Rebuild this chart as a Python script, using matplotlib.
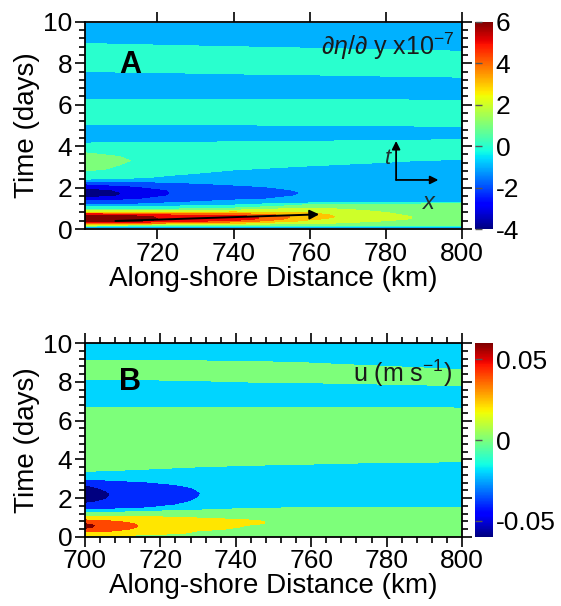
import numpy as np
import matplotlib
matplotlib.use('Agg')
import matplotlib.pyplot as plt
from matplotlib.colors import Normalize
from matplotlib.cm import ScalarMappable
from matplotlib.ticker import AutoMinorLocator

plt.rcParams['font.family'] = ['Liberation Sans', 'DejaVu Sans']
plt.rcParams['mathtext.fontset'] = 'custom'
plt.rcParams['mathtext.rm'] = 'Liberation Sans'
plt.rcParams['mathtext.it'] = 'Liberation Sans:italic'
plt.rcParams['axes.unicode_minus'] = False

# ---- panel A: d(eta)/dy x1e-7, sampled per along-shore column ----
dist_a = [701, 712, 724, 740, 760, 780, 800]
time_a = [0.08, 0.2, 0.3, 0.4, 0.5, 0.6, 0.7, 0.8, 0.9, 1.0,
          1.1, 1.2, 1.3, 1.45, 1.6, 1.75, 1.9, 2.05, 2.2, 2.35,
          2.5, 2.7, 2.9, 3.1, 3.3, 3.5, 3.7, 3.9, 4.1, 4.3,
          4.5, 4.8, 5.1, 5.4, 5.7, 6.0, 6.3, 6.6, 6.9, 7.2,
          7.5, 7.8, 8.1, 8.4, 8.7, 9.0, 9.3, 9.6, 9.92]

deta_701 = [-1.2, 1.9, 4.6, 6.4, 6.4, 6.3, 5.3, 2.8, 1.2, -0.2,
            -0.58, -1.6, -2.1, -3.1, -4.2, -4.3, -4.0, -2.93, -2.43, -1.03,
            0.3, 0.2, 0.8, 1.0, 1.1, 1.0, 0.45, 0.0, -0.3, -1.1,
            -1.0, -1.0, -0.44, 0, 0, 0, -0.56, -1, -1, -1,
            -0.8, 0.1, 0, 0, 0, -0.6, -1, -1, -1]
deta_712 = [-1.2, 1.6, 4.2, 6.1, 6.2, 6.0, 5.0, 2.6, 1.1, -0.1,
            -0.55, -1.55, -2.0, -2.7, -3.3, -3.4, -3.2, -2.6, -2.2, -1.2,
            -0.15, -0.1, 0.2, 0.4, 0.55, 0.4, 0.1, 0.0, -0.3, -0.87,
            -1, -1, -0.42, 0, 0, 0, -0.58, -1, -1, -1,
            -0.7, 0.16, 0, 0, 0, -0.71, -1, -1, -1]
deta_724 = [-1.1, 1.3, 3.6, 5.0, 5.15, 5.1, 4.3, 2.6, 1.2, 0.1,
            -0.45, -1.2, -1.6, -2.1, -2.4, -2.45, -2.4, -2.2, -1.7, -1.1,
            -0.8, -0.2, 0, 0, 0, 0, 0, 0, -0.3, -0.8,
            -1, -1, -0.38, 0, 0, 0, -0.58, -1, -1, -1,
            -0.6, 0.15, 0, 0, 0, -0.94, -1, -1, -1]
deta_740 = [-0.9, 1.0, 2.8, 4.4, 5.4, 5.2, 4.2, 2.8, 1.6, 0.6,
            -0.1, -0.8, -1.2, -1.65, -1.9, -2.0, -1.95, -1.7, -1.3, -1.0,
            -0.95, -0.9, -0.37, 0, 0, 0, 0, 0, -0.2, -0.75,
            -1, -1, -0.35, 0, 0, 0, -0.6, -1, -1, -1,
            -0.48, 0, 0, 0, -0.2, -1.1, -1, -1, -1]
deta_760 = [-0.8, 1.0, 1.8, 2.3, 2.7, 2.9, 2.8, 2.4, 2.0, 1.6,
            0.9, 0.4, -1.1, -1.3, -1.4, -1.44, -1.35, -1.2, -1.1, -1.0,
            -1.0, -1.0, -0.9, -0.37, 0, 0, 0, 0, -0.1, -0.67,
            -1, -1, -0.25, 0, 0, 0, -0.63, -1, -1, -1,
            -0.38, 0, 0, 0, -0.45, -1.0, -1, -1, -1]
deta_780 = [-0.8, 0.7, 1.1, 1.5, 1.7, 1.7, 1.6, 1.5, 1.3, 1.1,
            0.8, 0.6, -1.0, -1, -1, -1, -1, -1, -1, -1,
            -1, -1, -1, -0.8, -0.3, 0, 0, 0, 0, -0.59,
            -1, -1, -0.17, 0, 0, 0, -0.65, -1, -1, -1,
            -0.17, 0, 0, 0, -0.6, -1, -1, -1, -1]
deta_800 = [-0.8, 0.55, 0.9, 1.05, 1.1, 1.1, 1.05, 1.0, 0.95, 0.85,
            0.75, 0.7, -0.8, -1, -1, -1, -1, -1, -1, -1,
            -1, -1, -1, -1, -0.8, 0.2, 0, 0, 0.1, -0.45,
            -1, -1, -0.06, 0, 0, 0, -0.68, -1, -1, -1,
            0.15, 0, 0, 0, -0.83, -1, -1, -1, -1]

# ---- panel B: cross-shore velocity u, cm/s ----
dist_b = [700, 708, 718, 730, 745, 760, 780, 800]
time_b = [0.0, 0.1, 0.2, 0.3, 0.4, 0.5, 0.6, 0.7, 0.8, 0.9,
          1.0, 1.1, 1.2, 1.35, 1.5, 1.65, 1.8, 1.95, 2.1, 2.25,
          2.4, 2.55, 2.7, 2.85, 3.0, 3.2, 3.4, 3.6, 3.8, 4.0,
          4.5, 5.0, 5.5, 6.0, 6.4, 6.8, 7.2, 7.6, 8.0, 8.3,
          8.6, 8.9, 9.2, 9.5, 10.0]

u_700 = [0.2, 1.2, 2.3, 3.4, 4.6, 5.4, 5.5, 4.9, 3.8, 2.8,
         1.8, 0.6, -0.5, -2.6, -4.0, -4.6, -5.3, -6.0, -6.3, -6.3,
         -6.0, -5.5, -4.95, -3.9, -2.9, -1.6, -0.9, 0, 0, 0,
         0, 0, 0, 0, 0, -1.33, -2, -2, -1.5, -0.43,
         0, 0, -1.5, -2, -2]
u_708 = [0.2, 1.1, 2.0, 2.9, 3.4, 3.8, 3.9, 3.6, 3.1, 2.4,
         1.6, 0.6, 0.0, -2.0, -3.6, -4.1, -4.4, -4.6, -4.7, -4.7,
         -4.5, -4.2, -3.8, -3.3, -2.6, -1.6, -1.2, 0, 0, 0,
         0, 0, 0, 0, 0, -1.33, -2, -2, -1.5, -0.25,
         0, 0, -1.5, -2, -2]
u_718 = [0.1, 0.9, 1.5, 2.0, 2.3, 2.4, 2.4, 2.3, 2.0, 1.7,
         1.3, 0.6, 0.0, -1.2, -2.9, -3.4, -3.7, -3.9, -4.0, -4.0,
         -3.9, -3.6, -3.3, -2.9, -2.4, -1.9, -1.8, -0.4, 0, 0,
         0, 0, 0, 0, 0, -1.33, -2, -2, -1.5, 0,
         0, 0, -1.5, -2, -2]
u_730 = [0.0, 0.4, 0.8, 0.95, 1.3, 1.5, 1.6, 1.6, 1.5, 1.3,
         0.9, 0.4, 0.0, -0.6, -2.3, -2.6, -2.8, -2.95, -3.02, -3.05,
         -2.98, -2.9, -2.7, -2.5, -2.3, -2.1, -2.0, -1.1, 0, 0,
         0, 0, 0, 0, 0, -1.38, -2, -2, -1.2, -0.2,
         0, 0, -1.67, -2, -2]
u_745 = [0.0, 0.2, 0.35, 0.5, 0.65, 0.8, 0.9, 1.15, 1.15, 0.9,
         0.6, 0.3, 0.0, -0.3, -1.1, -1.6, -1.9, -2.0, -2.0, -2.0,
         -2.0, -2.0, -2.0, -2.0, -2.0, -2.0, -2.0, -1.6, -0.4, 0,
         0, 0, 0, 0, 0, -1.43, -2, -2, -0.95, 0,
         0, 0, -2, -2, -2]
u_760 = [0.0, 0.1, 0.15, 0.2, 0.25, 0.3, 0.3, 0.3, 0.3, 0.25,
         0.2, 0.1, 0.0, -0.3, -0.95, -1.5, -1.9, -2, -2, -2,
         -2, -2, -2, -2, -2, -2, -2, -2, -0.75, 0,
         0, 0, 0, 0, 0, -1.48, -2, -2, -0.86, 0,
         0, -0.7, -2, -2, -2]
u_780 = [0.0, 0.1, 0.1, 0.15, 0.2, 0.2, 0.2, 0.2, 0.2, 0.2,
         0.15, 0.1, 0.0, -0.3, -0.9, -1.5, -1.9, -2, -2, -2,
         -2, -2, -2, -2, -2, -2, -2, -2, -1.3, 0,
         0, 0, 0, 0, 0, -1.54, -2, -2, -0.57, 0,
         0, -1.5, -2, -2, -2]
u_800 = [0.0, 0.1, 0.1, 0.1, 0.15, 0.15, 0.15, 0.15, 0.15, 0.15,
         0.1, 0.1, 0.0, -0.3, -0.85, -1.5, -1.9, -2, -2, -2,
         -2, -2, -2, -2, -2, -2, -2, -2, -1.6, 0,
         0, 0, 0, 0, 0, -1.6, -2, -2, 0, 0,
         -0.9, -2, -2, -2, -2]

deta = np.column_stack([deta_701, deta_712, deta_724, deta_740,
                        deta_760, deta_780, deta_800])
u = np.column_stack([u_700, u_708, u_718, u_730, u_745,
                     u_760, u_780, u_800]) / 100.0

FS = 19


def style(ax, minor_x):
    for sp in ax.spines.values():
        sp.set_linewidth(1.3)
    ax.set_ylim(0, 10)
    ax.set_yticks([0, 2, 4, 6, 8, 10])
    ax.yaxis.set_minor_locator(AutoMinorLocator(5))
    if minor_x:
        ax.xaxis.set_minor_locator(AutoMinorLocator(5))
    ax.tick_params(which='both', direction='out', top=True, right=True,
                   labelsize=FS, width=1.2, pad=2)
    ax.tick_params(which='major', length=7)
    ax.tick_params(which='minor', length=4)
    ax.set_xlabel('Along-shore Distance (km)', fontsize=20, labelpad=0)
    ax.set_ylabel('Time (days)', fontsize=20, labelpad=2)


def add_cbar(fig, rect, norm, ticks, labels):
    cax = fig.add_axes(rect)
    sm = ScalarMappable(norm=norm, cmap='jet')
    cb = fig.colorbar(sm, cax=cax, ticks=ticks)
    cb.outline.set_visible(False)
    cb.ax.set_yticklabels(labels)
    cax.tick_params(left=True, right=False, labelleft=False, labelright=True,
                    direction='in', length=5, width=1, color='#555555',
                    labelsize=FS, pad=2)
    return cb


fig = plt.figure(figsize=(5.61, 6.06), dpi=100)

# panel A
ax1 = fig.add_axes([0.1515, 0.622, 0.672, 0.342])
norm_a = Normalize(-4, 6)
ax1.contourf(dist_a, time_a, deta, levels=np.arange(-4.5, 7.0, 1.0),
             cmap='jet', norm=norm_a)
ax1.set_xlim(701, 800)
ax1.set_xticks([720, 740, 760, 780, 800])
style(ax1, minor_x=False)
ax1.text(713, 7.9, 'A', fontsize=22, fontweight='bold', ha='center', va='center')
ax1.text(798, 8.8, r'$\partial\eta/\partial$ y x10$^{-7}$', fontsize=18,
         ha='right', va='center', color='#1a1a1a')
ax1.annotate('', xy=(762.5, 0.71), xytext=(709, 0.39),
             arrowprops=dict(arrowstyle='-|>', color='black', lw=1.4,
                             mutation_scale=14, shrinkA=0, shrinkB=0))
ax1.annotate('', xy=(782.7, 4.25), xytext=(782.7, 2.37),
             arrowprops=dict(arrowstyle='-|>', color='black', lw=1.3,
                             mutation_scale=12, shrinkA=0, shrinkB=0))
ax1.annotate('', xy=(793.8, 2.37), xytext=(782.7, 2.37),
             arrowprops=dict(arrowstyle='-|>', color='black', lw=1.3,
                             mutation_scale=12, shrinkA=0, shrinkB=0))
ax1.text(780.6, 3.4, 't', fontsize=16, style='italic', ha='center', va='center',
         color='#1f2f2f')
ax1.text(791.2, 1.28, 'x', fontsize=17, style='italic', ha='center', va='center',
         color='#1f2f2f')
add_cbar(fig, [0.8467, 0.622, 0.032, 0.342], norm_a,
         [-4, -2, 0, 2, 4, 6], ['-4', '-2', '0', '2', '4', '6'])

# panel B
ax2 = fig.add_axes([0.1515, 0.1139, 0.672, 0.320])
norm_b = Normalize(-0.06, 0.06)
ax2.contourf(dist_b, time_b, u, levels=np.arange(-0.07, 0.08, 0.02),
             cmap='jet', norm=norm_b)
ax2.set_xlim(700, 800)
ax2.set_xticks([700, 720, 740, 760, 780, 800])
style(ax2, minor_x=True)
ax2.text(712, 8.0, 'B', fontsize=22, fontweight='bold', ha='center', va='center')
ax2.text(797.5, 8.45, r'u (m s$^{-1}$)', fontsize=18, ha='right', va='center',
         color='#1a1a1a')
add_cbar(fig, [0.8467, 0.1139, 0.032, 0.320], norm_b,
         [-0.05, 0, 0.05], ['-0.05', '0', '0.05'])

fig.savefig('out.png', dpi=100)
